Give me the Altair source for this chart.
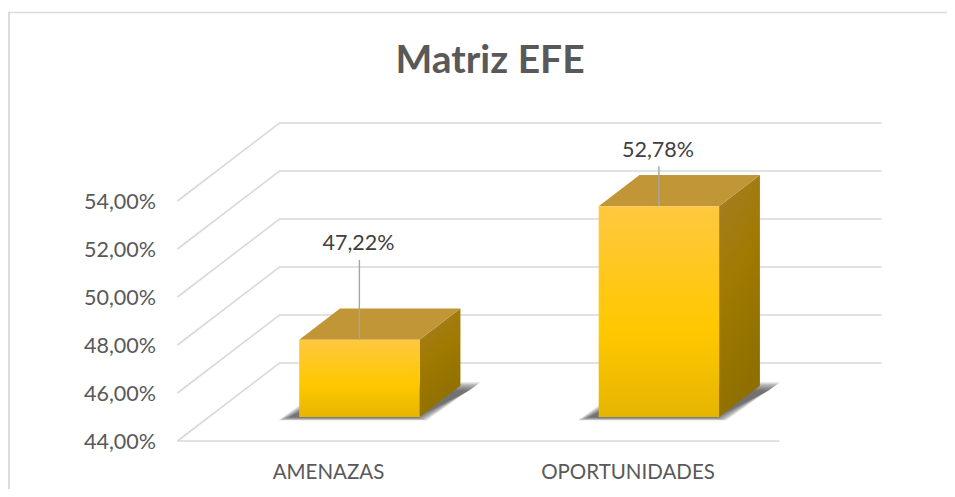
import altair as alt
import pandas as pd

# ---- values
categories = ["AMENAZAS", "OPORTUNIDADES"]
cat_pos = [0, 0.995]
values = [47.22, 52.78]
value_labels = ["47,22%", "52,78%"]
y_ticks = [44, 46, 48, 50, 52, 54]
leader_len = [3.33, 1.67]   # label leader length, in percentage points

# ---- 3D projection constants, in data units
DEPTH_X = 0.339     # category units per full floor depth
DEPTH_Y = 3.25      # percentage points per full floor depth
FLOOR_L, FLOOR_R = -0.5, 1.5
BASE = 44
BAR_D0 = 0.3077     # depth of bar front face
BAR_D = 0.4         # bar depth
BAR_HW = 0.2        # half width of the front face

W, H = 939, 481
X_DOM = [-320 / 301, (W - 320) / 301]
Y_DOM = [44 - (H - 433) / 24, 44 + 433 / 24]
xs = alt.Scale(domain=X_DOM, nice=False, zero=False)
ys = alt.Scale(domain=Y_DOM, nice=False, zero=False)


def px(c, v, d=0.0):
    return c + d * DEPTH_X, v + d * DEPTH_Y


def grad(stops, x2=0, y2=1):
    return alt.LinearGradient(
        gradient="linear", x1=0, y1=0, x2=x2, y2=y2,
        stops=[alt.GradientStop(offset=o, color=c) for o, c in stops])


# gridlines
grid_rows = []
for t in y_ticks:
    pts = [(FLOOR_L, 0), (FLOOR_L, 1), (FLOOR_R, 1)]
    for i, (c, d) in enumerate(pts):
        X, Y = px(c, t, d)
        grid_rows.append(dict(level=t, o=i, X=X, Y=Y))
front_rows = [dict(X=FLOOR_L, Y=BASE), dict(X=FLOOR_R, Y=BASE)]

side_rows, top_rows, front_face, leader_rows, label_rows = [], [], [], [], []
shadow_rows = []
for i, v in enumerate(values):
    p = cat_pos[i]
    l, r = p - BAR_HW, p + BAR_HW
    x0, y0 = px(r, BASE, BAR_D0)
    x1, y1 = px(r, BASE, BAR_D0 + BAR_D)
    _, t0 = px(r, v, BAR_D0)
    _, t1 = px(r, v, BAR_D0 + BAR_D)
    side_rows += [dict(bar=i, X=x0, Y=y0, Y2=t0), dict(bar=i, X=x1, Y=y1, Y2=t1)]
    xl0, _ = px(l, v, BAR_D0)
    xl1, _ = px(l, v, BAR_D0 + BAR_D)
    top_rows += [dict(bar=i, Y=t0, X=xl0, X2=x0), dict(bar=i, Y=t1, X=xl1, X2=x1)]
    front_face.append(dict(X=xl0, X2=x0, Y=y0, Y2=t0))
    cx, _ = px(p, v, BAR_D0)
    leader_rows.append(dict(X=cx, Y=t0, Y2=t0 + leader_len[i]))
    label_rows.append(dict(X=cx - 0.003, Y=t0 + leader_len[i] + 0.65, T=value_labels[i]))
    for k in range(10):
        e = -0.02 + 0.004 * k
        shadow_rows += [
            dict(bar=i, k=k, Y=44.99 - 0.015 * k, X=p - 0.1495 - e, X2=p + 0.312 + e),
            dict(bar=i, k=k, Y=46.1 + 0.04 * k, X=p + 0.03 - e, X2=p + 0.4917 + e),
        ]


tick_expr = "replace(format(datum.value,'.2f'),'.',',')+'%'"
cat_expr = f"datum.value==0?'{categories[0]}':'{categories[1]}'"
x_axis = alt.Axis(values=[0, cat_pos[1]], labelExpr=cat_expr, domain=False, ticks=False, grid=False,
                  labelFont="Lato", labelFontSize=20.5, labelColor="#595959", labelPadding=0,
                  offset=-(H - 454.5), labelOverlap=False, labelBaseline="top", labelFlush=False)
y_axis = alt.Axis(values=y_ticks, labelExpr=tick_expr, domain=False, ticks=False, grid=False,
                  labelFont="Lato", labelFontSize=21.5, labelColor="#595959", labelPadding=0,
                  labelOffset=1.5, offset=-147.5)


def xq():
    return alt.X("X:Q", scale=xs, axis=x_axis, title=None)


def yq():
    return alt.Y("Y:Q", scale=ys, axis=y_axis, title=None)


grid = alt.Chart(pd.DataFrame(grid_rows)).mark_line(color="#D9D9D9", strokeWidth=1.6).encode(
    x=xq(), y=yq(), detail="level:N", order="o:Q")
floor = alt.Chart(pd.DataFrame(front_rows)).mark_line(color="#D9D9D9", strokeWidth=1.6).encode(x=xq(), y=yq())

shadow = alt.Chart(pd.DataFrame(shadow_rows)).mark_area(
    orient="horizontal", color="#333333", opacity=0.11).encode(
    y=yq(), x=xq(), x2="X2:Q", detail=["bar:N", "k:N"])

side = alt.Chart(pd.DataFrame(side_rows)).mark_area(
    orient="vertical",
    color=grad([(0, "#A67E28"), (0.5, "#A07A00"), (1, "#8E6F00")], x2=0.3)).encode(
    x=xq(), y=yq(), y2="Y2:Q", detail="bar:N")

top = alt.Chart(pd.DataFrame(top_rows)).mark_area(orient="horizontal", color="#C09636").encode(
    y=yq(), x=xq(), x2="X2:Q", detail="bar:N")

front = alt.Chart(pd.DataFrame(front_face)).mark_rect(
    color=grad([(0, "#FFC840"), (0.58, "#FFC800"), (1, "#E6B500")])).encode(
    x=xq(), x2="X2:Q", y=yq(), y2="Y2:Q")

leader = alt.Chart(pd.DataFrame(leader_rows)).mark_rule(color="#A6A6A6", strokeWidth=1.4).encode(
    x=xq(), y=yq(), y2="Y2:Q")

labels = alt.Chart(pd.DataFrame(label_rows)).mark_text(
    font="Lato", fontSize=21.5, color="#404040", align="center", baseline="middle").encode(
    x=xq(), y=yq(), text="T:N")

frame_top = alt.Chart(pd.DataFrame({"a": [0]})).mark_rule(color="#DCDCDC", strokeWidth=1.5).encode(
    x=alt.value(0), x2=alt.value(W), y=alt.value(4.5))
frame_left = alt.Chart(pd.DataFrame({"a": [0]})).mark_rule(color="#DCDCDC", strokeWidth=2).encode(
    x=alt.value(1), y=alt.value(4), y2=alt.value(H))

chart = alt.layer(frame_top, frame_left, grid, floor, shadow, side, top, front, leader, labels).properties(
    width=W, height=H,
    autosize=alt.AutoSizeParams(type="none"),
    padding=0,
    background="white",
    title=alt.TitleParams("Matriz EFE", font="Lato", fontSize=39, fontWeight="bold", color="#595959",
                          anchor="middle", dx=12.5, offset=-73),
).configure_view(stroke=None)

chart.save("out.html", embed_options={"renderer": "svg", "actions": False})
